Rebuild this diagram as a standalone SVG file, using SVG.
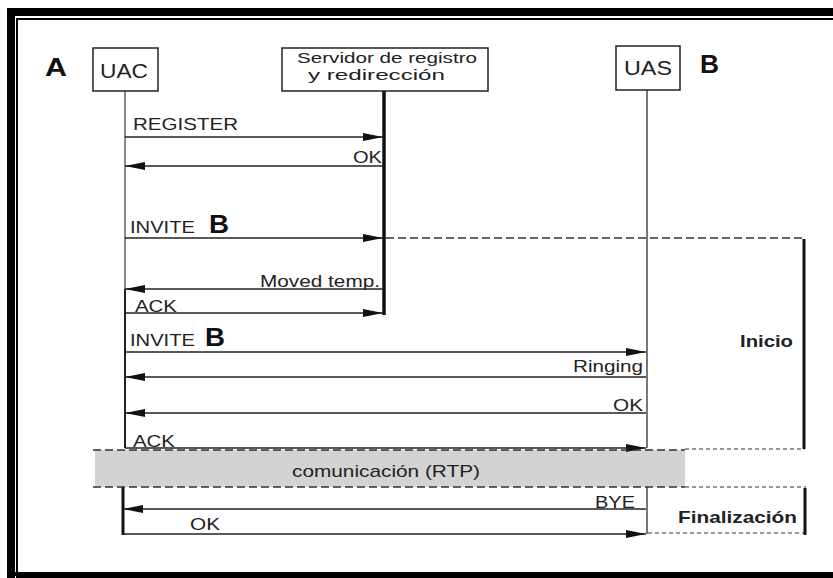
<svg xmlns="http://www.w3.org/2000/svg" width="833" height="578" viewBox="0 0 833 578">
<style>
.t{font-family:"Liberation Sans",Arial,sans-serif;fill:#222;}
.lbl{font-size:17px;}
.big{font-size:25px;font-weight:bold;fill:#111;}
.bold{font-size:17px;font-weight:bold;}
.box{fill:#fff;stroke:#222;stroke-width:1.5;}
.msg{stroke:#222;stroke-width:1.6;fill:none;marker-end:url(#ah);}
.dash{stroke:#333;stroke-width:1.6;stroke-dasharray:8 4;fill:none;}
.dot{stroke:#777;stroke-width:1.6;stroke-dasharray:4 3;fill:none;}
</style>
<defs>
<marker id="ah" markerUnits="userSpaceOnUse" markerWidth="20" markerHeight="8" refX="20" refY="4" orient="auto">
<path d="M0,0 L20,4 L0,8 z" fill="#111"/>
</marker>
</defs>
<rect width="833" height="578" fill="#fff"/>
<g id="frame">
<rect x="7" y="8" width="8" height="570" fill="#000"/>
<rect x="7" y="8" width="826" height="8" fill="#000"/>
<rect x="7" y="572" width="826" height="4" fill="#000"/>
<path d="M833,19 H17 V577 H833" fill="none" stroke="#000" stroke-width="2"/>
</g>
<g id="lifelines">
<line x1="125" y1="91" x2="125" y2="290" stroke="#888" stroke-width="2"/>
<line x1="125" y1="289" x2="125" y2="448" stroke="#222" stroke-width="2"/>
<line x1="384" y1="91" x2="384" y2="315" stroke="#111" stroke-width="3.5"/>
<line x1="647" y1="90" x2="647" y2="448" stroke="#777" stroke-width="2"/>
<line x1="647" y1="487" x2="647" y2="534" stroke="#777" stroke-width="2"/>
<line x1="123" y1="487" x2="123" y2="535" stroke="#111" stroke-width="3"/>
</g>
<g id="UAC">
<rect class="box" x="93" y="48" width="65" height="43"/>
<text class="t" x="100" y="78" font-size="20" textLength="48" lengthAdjust="spacingAndGlyphs">UAC</text>
</g>
<g id="labelA"><text class="t big" x="45" y="76" textLength="22" lengthAdjust="spacingAndGlyphs">A</text></g>
<g id="servidor">
<rect class="box" x="282" y="48" width="206" height="43"/>
<text class="t" x="297" y="63" font-size="14" textLength="180" lengthAdjust="spacingAndGlyphs">Servidor de registro</text>
<text class="t" x="308" y="80" font-size="14" textLength="137" lengthAdjust="spacingAndGlyphs">y redirección</text>
</g>
<g id="UAS">
<rect class="box" x="616" y="46" width="64" height="44"/>
<text class="t" x="624" y="75" font-size="20" textLength="48" lengthAdjust="spacingAndGlyphs">UAS</text>
</g>
<g id="labelB"><text class="t big" x="700" y="73" textLength="19" lengthAdjust="spacingAndGlyphs">B</text></g>
<g id="comm">
<rect x="95" y="450" width="590" height="37" fill="#d3d3d3"/>
<text class="t" x="292" y="477" font-size="17" textLength="188" lengthAdjust="spacingAndGlyphs">comunicación (RTP)</text>
</g>
<g id="connectors">
<line class="msg" x1="125" y1="137" x2="383" y2="137"/>
<line class="msg" x1="383" y1="166" x2="125" y2="166"/>
<line class="msg" x1="125" y1="238" x2="383" y2="238"/>
<line class="msg" x1="383" y1="289" x2="125" y2="289"/>
<line class="msg" x1="125" y1="313" x2="383" y2="313"/>
<line class="msg" x1="125" y1="352" x2="646" y2="352"/>
<line class="msg" x1="646" y1="377" x2="125" y2="377"/>
<line class="msg" x1="646" y1="413" x2="125" y2="413"/>
<line class="msg" x1="125" y1="448" x2="646" y2="448"/>
<line class="msg" x1="646" y1="509" x2="123" y2="509"/>
<line class="msg" x1="123" y1="534" x2="646" y2="534"/>
<line class="dash" x1="386" y1="238" x2="805" y2="238" stroke-dasharray="6 4"/>
<line class="dash" x1="93" y1="450" x2="685" y2="450"/>
<line class="dash" x1="93" y1="487" x2="685" y2="487"/>
<line class="dot" x1="685" y1="449" x2="805" y2="449"/>
<line class="dot" x1="685" y1="487" x2="806" y2="487"/>
<line class="dot" x1="648" y1="533" x2="805" y2="533"/>
<line x1="804" y1="239" x2="804" y2="449" stroke="#111" stroke-width="3"/>
<line x1="805" y1="488" x2="805" y2="535" stroke="#111" stroke-width="3"/>
</g>
<g id="labels">
<text class="t lbl" x="133" y="130" textLength="105" lengthAdjust="spacingAndGlyphs">REGISTER</text>
<text class="t lbl" x="353" y="163" textLength="29" lengthAdjust="spacingAndGlyphs">OK</text>
<text class="t" x="130" y="233" font-size="17" textLength="65" lengthAdjust="spacingAndGlyphs">INVITE</text>
<text class="t big" x="209" y="233" font-size="24" textLength="20" lengthAdjust="spacingAndGlyphs">B</text>
<text class="t lbl" x="260" y="287" textLength="120" lengthAdjust="spacingAndGlyphs">Moved temp.</text>
<text class="t lbl" x="135" y="312" textLength="42" lengthAdjust="spacingAndGlyphs">ACK</text>
<text class="t" x="130" y="346" font-size="17" textLength="65" lengthAdjust="spacingAndGlyphs">INVITE</text>
<text class="t big" x="205" y="346" font-size="24" textLength="20" lengthAdjust="spacingAndGlyphs">B</text>
<text class="t lbl" x="573" y="372" textLength="70" lengthAdjust="spacingAndGlyphs">Ringing</text>
<text class="t lbl" x="613" y="411" textLength="30" lengthAdjust="spacingAndGlyphs">OK</text>
<text class="t lbl" x="133" y="447" textLength="42" lengthAdjust="spacingAndGlyphs">ACK</text>
<text class="t lbl" x="595" y="508" textLength="40" lengthAdjust="spacingAndGlyphs">BYE</text>
<text class="t lbl" x="190" y="530" textLength="30" lengthAdjust="spacingAndGlyphs">OK</text>
<text class="t bold" x="740" y="347" textLength="53" lengthAdjust="spacingAndGlyphs">Inicio</text>
<text class="t bold" x="678" y="523" textLength="119" lengthAdjust="spacingAndGlyphs">Finalización</text>
</g>
</svg>
